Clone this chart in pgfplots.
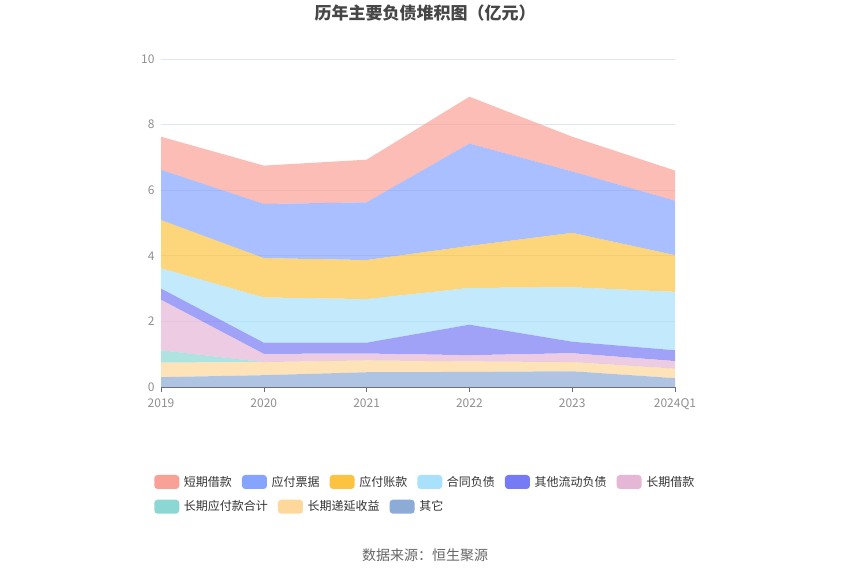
\documentclass[border=0pt]{standalone}
\usepackage{pgfplots}
\pgfplotsset{compat=1.18}
\usepackage{fontspec}
\setmainfont{Noto Sans CJK SC}
\definecolor{cA}{HTML}{F9A197}
\definecolor{cB}{HTML}{84A4FF}
\definecolor{cC}{HTML}{FCC341}
\definecolor{cD}{HTML}{A9E0FB}
\definecolor{cE}{HTML}{777AF5}
\definecolor{cF}{HTML}{E6B6D7}
\definecolor{cG}{HTML}{8CD7D3}
\definecolor{cH}{HTML}{FED79A}
\definecolor{cI}{HTML}{8DABD7}
\definecolor{gridc}{HTML}{E0E6F1}
\definecolor{axisc}{HTML}{6E7079}
\definecolor{labc}{HTML}{8F8F8F}
\definecolor{titc}{HTML}{464646}
\definecolor{legc}{HTML}{333333}
\definecolor{srcc}{HTML}{666666}
\pgfplotsset{
  mylegend/.style={
    legend image code/.code={\fill[##1,draw=none,rounded corners=2.5pt] (0pt,-5.25pt) rectangle (18.75pt,5.25pt);},
    legend style={draw=none, fill=none, inner sep=0pt, anchor=west,
      font=\fontsize{9pt}{10pt}\selectfont, text=legc,
      nodes={inner sep=0pt},
      /tikz/every odd column/.append style={column sep=3.5pt},
      /tikz/every even column/.append style={column sep=7.5pt}},
  }
}
\begin{document}
\begin{tikzpicture}[x=1pt,y=1pt]
\useasboundingbox (0,0) rectangle (637.5,431.25);
\begin{axis}[
  at={(120.75pt,141pt)}, anchor=south west,
  scale only axis, width=385.5pt, height=246pt,
  xmin=0, xmax=5, ymin=0, ymax=10,
  stack plots=y,
  axis lines*=left,
  x axis line style={color=axisc,-},
  y axis line style={draw=none},
  ytick={0,2,4,6,8,10},
  xtick={0,1,2,3,4,5},
  xticklabels={2019,2020,2021,2022,2023,2024Q1},
  ymajorgrids, grid style={gridc, line width=0.6pt},
  tick align=outside, major tick length=3.75pt,
  xtick style={color=axisc},
  ytick style={draw=none},
  tick label style={font=\fontsize{9pt}{10pt}\selectfont, text=labc},
  /pgf/number format/assume math mode=true,
  yticklabel style={inner sep=0pt, xshift=-0.9pt},
  xticklabel style={inner sep=0pt, yshift=-4.8pt},
  mylegend,
  legend columns=6,
  legend style={at={(-0.0136,-0.2896)}},
]
\addlegendimage{fill=cA}
\addlegendimage{fill=cB}
\addlegendimage{fill=cC}
\addlegendimage{fill=cD}
\addlegendimage{fill=cE}
\addlegendimage{fill=cF}
\addplot[fill=cI, fill opacity=0.7, draw=none, forget plot] coordinates {(0,0.30) (1,0.36) (2,0.45) (3,0.46) (4,0.48) (5,0.27)} \closedcycle;
\addplot[fill=cH, fill opacity=0.7, draw=none, forget plot] coordinates {(0,0.44) (1,0.40) (2,0.36) (3,0.32) (4,0.28) (5,0.29)} \closedcycle;
\addplot[fill=cG, fill opacity=0.7, draw=none, forget plot] coordinates {(0,0.38) (1,0.00) (2,0.00) (3,0.00) (4,0.00) (5,0.00)} \closedcycle;
\addplot[fill=cF, fill opacity=0.7, draw=none, forget plot] coordinates {(0,1.54) (1,0.25) (2,0.21) (3,0.19) (4,0.27) (5,0.23)} \closedcycle;
\addplot[fill=cE, fill opacity=0.7, draw=none, forget plot] coordinates {(0,0.34) (1,0.34) (2,0.33) (3,0.93) (4,0.35) (5,0.33)} \closedcycle;
\addplot[fill=cD, fill opacity=0.7, draw=none, forget plot] coordinates {(0,0.62) (1,1.38) (2,1.33) (3,1.12) (4,1.66) (5,1.78)} \closedcycle;
\addplot[fill=cC, fill opacity=0.7, draw=none, forget plot] coordinates {(0,1.47) (1,1.20) (2,1.19) (3,1.28) (4,1.66) (5,1.12)} \closedcycle;
\addplot[fill=cB, fill opacity=0.7, draw=none, forget plot] coordinates {(0,1.53) (1,1.65) (2,1.76) (3,3.12) (4,1.87) (5,1.66)} \closedcycle;
\addplot[fill=cA, fill opacity=0.7, draw=none, forget plot] coordinates {(0,1.01) (1,1.17) (2,1.30) (3,1.43) (4,1.06) (5,0.92)} \closedcycle;
\legend{短期借款,应付票据,应付账款,合同负债,其他流动负债,长期借款}
\end{axis}
\begin{axis}[
  at={(120.75pt,141pt)}, anchor=south west,
  scale only axis, width=385.5pt, height=246pt,
  xmin=0, xmax=5, ymin=0, ymax=10,
  hide axis,
  mylegend,
  legend columns=3,
  legend style={at={(-0.0136,-0.3649)}},
]
\addlegendimage{fill=cG}
\addlegendimage{fill=cH}
\addlegendimage{fill=cI}
\legend{长期应付款合计,长期递延收益,其它}
\end{axis}
\node[font=\fontsize{12.75pt}{14pt}\selectfont\bfseries, text=titc] at (318.75,421.1) {历年主要负债堆积图（亿元）};
\node[font=\fontsize{10.5pt}{12pt}\selectfont, text=srcc] at (318.75,15) {数据来源：恒生聚源};
\end{tikzpicture}
\end{document}
